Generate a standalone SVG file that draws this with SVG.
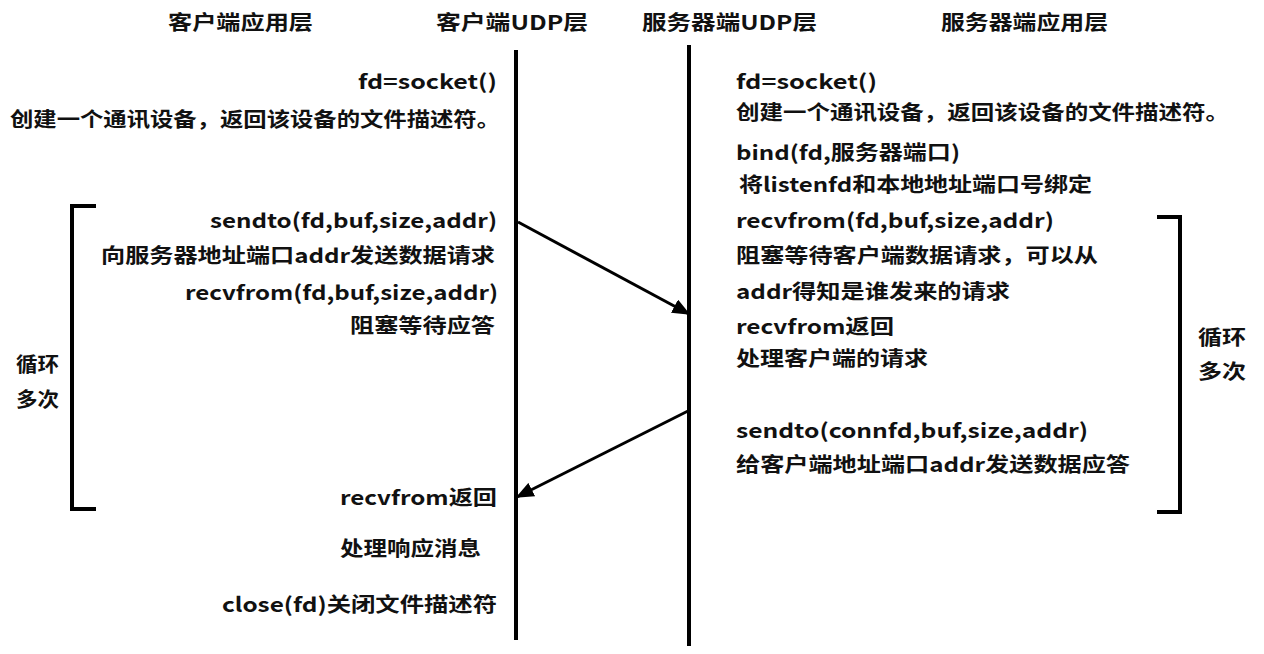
<svg xmlns="http://www.w3.org/2000/svg" width="1264" height="654" viewBox="0 0 1264 654">
<style>
text{font-family:"Noto Sans CJK SC","Liberation Sans",sans-serif;font-weight:bold;font-size:20px;fill:#111}
.r{text-anchor:end}
.life{stroke:#000;stroke-width:4;fill:none}
.br{stroke:#000;stroke-width:4;fill:none}
.conn{stroke:#000;stroke-width:3;fill:none}
</style>
<defs>
<marker id="ah" viewBox="0 0 12 10" refX="11" refY="5" markerWidth="6" markerHeight="5" orient="auto" markerUnits="strokeWidth">
<path d="M0,0 L12,5 L0,10 z" fill="#000"/>
</marker>
</defs>
<rect width="1264" height="654" fill="#fff"/>
<g id="headers">
<text x="168" y="30" textLength="145" lengthAdjust="spacingAndGlyphs">客户端应用层</text>
<text x="436" y="30" textLength="152" lengthAdjust="spacingAndGlyphs">客户端UDP层</text>
<text x="642" y="30" textLength="175" lengthAdjust="spacingAndGlyphs">服务器端UDP层</text>
<text x="941" y="30" textLength="167" lengthAdjust="spacingAndGlyphs">服务器端应用层</text>
</g>
<g id="lifelines">
<line class="life" x1="516" y1="50" x2="516" y2="640"/>
<line class="life" x1="689" y1="45" x2="689" y2="646"/>
</g>
<g id="client-app">
<text class="r" x="497" y="89" textLength="139" lengthAdjust="spacingAndGlyphs">fd=socket()</text>
<text class="r" x="500" y="127" textLength="490" lengthAdjust="spacingAndGlyphs">创建一个通讯设备，返回该设备的文件描述符。</text>
<text class="r" x="497" y="228" textLength="287" lengthAdjust="spacingAndGlyphs">sendto(fd,buf,size,addr)</text>
<text class="r" x="495" y="263" textLength="394" lengthAdjust="spacingAndGlyphs">向服务器地址端口addr发送数据请求</text>
<text class="r" x="498" y="300" textLength="313" lengthAdjust="spacingAndGlyphs">recvfrom(fd,buf,size,addr)</text>
<text class="r" x="495" y="333" textLength="145" lengthAdjust="spacingAndGlyphs">阻塞等待应答</text>
<text class="r" x="497" y="505" textLength="157" lengthAdjust="spacingAndGlyphs">recvfrom返回</text>
<text class="r" x="481" y="556" textLength="141" lengthAdjust="spacingAndGlyphs">处理响应消息</text>
<text class="r" x="497" y="612" textLength="275" lengthAdjust="spacingAndGlyphs">close(fd)关闭文件描述符</text>
</g>
<g id="client-loop">
<path class="br" d="M96,206 H72 V509 H96"/>
<text x="16" y="372" textLength="43" lengthAdjust="spacingAndGlyphs">循环</text>
<text x="16" y="407" textLength="43" lengthAdjust="spacingAndGlyphs">多次</text>
</g>
<g id="server-app">
<text x="736" y="89" textLength="141" lengthAdjust="spacingAndGlyphs">fd=socket()</text>
<text x="736" y="120" textLength="493" lengthAdjust="spacingAndGlyphs">创建一个通讯设备，返回该设备的文件描述符。</text>
<text x="736" y="160" textLength="224" lengthAdjust="spacingAndGlyphs">bind(fd,服务器端口)</text>
<text x="739" y="192" textLength="353" lengthAdjust="spacingAndGlyphs">将listenfd和本地地址端口号绑定</text>
<text x="736" y="228" textLength="318" lengthAdjust="spacingAndGlyphs">recvfrom(fd,buf,size,addr)</text>
<text x="736" y="263" textLength="362" lengthAdjust="spacingAndGlyphs">阻塞等待客户端数据请求，可以从</text>
<text x="736" y="299" textLength="274" lengthAdjust="spacingAndGlyphs">addr得知是谁发来的请求</text>
<text x="736" y="334" textLength="158" lengthAdjust="spacingAndGlyphs">recvfrom返回</text>
<text x="736" y="366" textLength="192" lengthAdjust="spacingAndGlyphs">处理客户端的请求</text>
<text x="736" y="438" textLength="352" lengthAdjust="spacingAndGlyphs">sendto(connfd,buf,size,addr)</text>
<text x="736" y="472" textLength="394" lengthAdjust="spacingAndGlyphs">给客户端地址端口addr发送数据应答</text>
</g>
<g id="server-loop">
<path class="br" d="M1157,217 H1180 V512 H1157"/>
<text x="1198" y="345" textLength="48" lengthAdjust="spacingAndGlyphs">循环</text>
<text x="1198" y="379" textLength="48" lengthAdjust="spacingAndGlyphs">多次</text>
</g>
<g id="connectors">
<line class="conn" x1="518" y1="222" x2="689" y2="314" marker-end="url(#ah)"/>
<line class="conn" x1="688" y1="411" x2="517" y2="497" marker-end="url(#ah)"/>
</g>
</svg>
